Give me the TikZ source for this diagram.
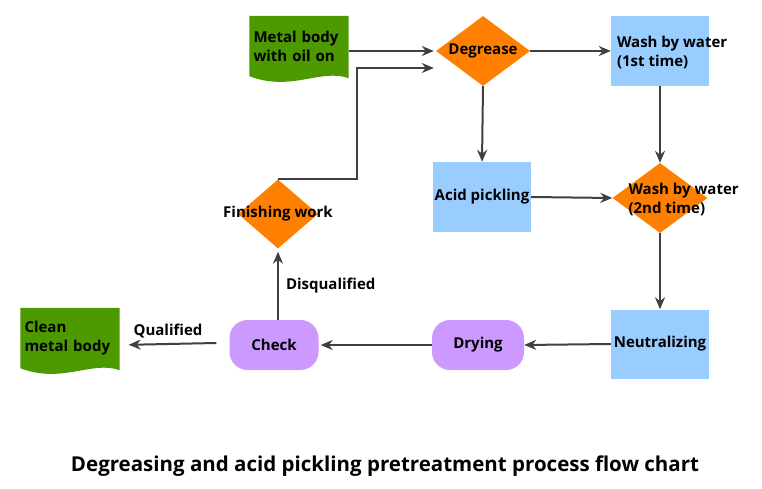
\documentclass[tikz,border=0pt]{standalone}
\usepackage{fontspec}
\setmainfont{Open Sans}
\usepackage{xcolor}
\usetikzlibrary{arrows.meta}
\usetikzlibrary{shapes.geometric, backgrounds, calc}

\definecolor{docgreen}{HTML}{4C9A00}
\definecolor{decorange}{HTML}{FF8000}
\definecolor{stepblue}{HTML}{99CCFF}
\definecolor{termpurple}{HTML}{CC99FF}
\definecolor{linegray}{HTML}{404040}

\begin{document}
\begin{tikzpicture}[x=1pt, y=-1pt,
    every node/.style={font=\bfseries\fontsize{15}{19}\selectfont, inner sep=0pt},
    txt/.style={align=left},
    decision/.style={diamond, fill=decorange, minimum width=#1, minimum height=70pt},
    process/.style={rectangle, fill=stepblue, minimum width=98pt, minimum height=70pt},
    terminal/.style={rectangle, rounded corners=18pt, fill=termpurple, minimum width=92pt, minimum height=50pt},
    docbox/.style={rectangle, minimum width=99pt, minimum height=60pt, text width=91pt, align=left},
    flow/.style={draw=linegray, line width=2pt, -{Stealth[length=12pt, width=10pt]}},
  ]
  \useasboundingbox (0,0) rectangle (762,489);

  % inputs and outputs (document shapes)
  \node[docbox] (metal) at (299,46) {Metal body\\with oil on};
  \node[docbox] (clean) at (70,338) {Clean\\metal body};
  \begin{scope}[on background layer]
    \foreach \d in {metal, clean}
      \fill[docgreen] (\d.north west) -- (\d.north east) -- ($(\d.south east)+(0,2)$)
        .. controls ($(\d.south east)+(-28,-8)$) and ($(\d.south west)+(42,16)$) .. (\d.south west) -- cycle;
  \end{scope}

  % process steps
  \node[decision=94pt] (deg) at (483,51) {};
  \node (degtxt) at (deg) {Degrease};
  \node[process] (wash1) at (660,51) {};
  \node[txt, anchor=west] (wash1txt) at ($(wash1.west)+(6,1)$) {Wash by water\\(1st time)};
  \node[process] (acid) at (482,197) {};
  \node (acidtxt) at (acid) {Acid pickling};
  \node[decision=95pt] (wash2) at (660,198) {};
  \node[txt, anchor=west] (wash2txt) at ($(wash2.west)+(16,1)$) {Wash by water\\(2nd time)};
  \node[process, minimum height=69pt] (neut) at (660,344) {};
  \node (neuttxt) at (neut) {Neutralizing};
  \node[terminal] (dry) at (478,345) {Drying};
  \node[terminal, minimum width=89pt] (check) at (274,345) {Check};
  \node[decision=80pt, minimum height=69pt] (finish) at (278,214) {};
  \node (finishtxt) at (finish) {Finishing work};

  % connectors
  \coordinate (bend) at (357,68);
  \draw[flow] (metal.east |- deg.west) -- ($(deg.west)+(-2,0)$);
  \draw[flow] (deg.east) -- (wash1.west);
  \draw[flow] (deg.south) -- (acid.north);
  \draw[flow] (wash1.south) -- (wash2.north);
  \draw[flow] (acid.east) -- (wash2.west);
  \draw[flow] (wash2.south) -- (neut.north);
  \draw[flow] (neut.west) -- (dry.east);
  \draw[flow] (dry.west) -- ($(check.east)+(2,0)$);
  \draw[flow, shorten >=9pt] ($(check.west)+(-13,-2)$) -- (clean.east |- check.west)
    node[midway, above=5pt] (qual) {Qualified};
  \draw[flow] (check.north -| finish.south) -- ($(finish.south)+(0,3)$)
    node[midway, right=7pt] (disq) {Disqualified};
  \draw[flow] (finish.north) -| (bend) -- ($(deg.west |- bend)+(-2,0)$);

  \node[font=\bfseries\fontsize{20.5}{24}\selectfont] (caption) at (385,466)
    {Degreasing and acid pickling pretreatment process flow chart};
\end{tikzpicture}
\end{document}
